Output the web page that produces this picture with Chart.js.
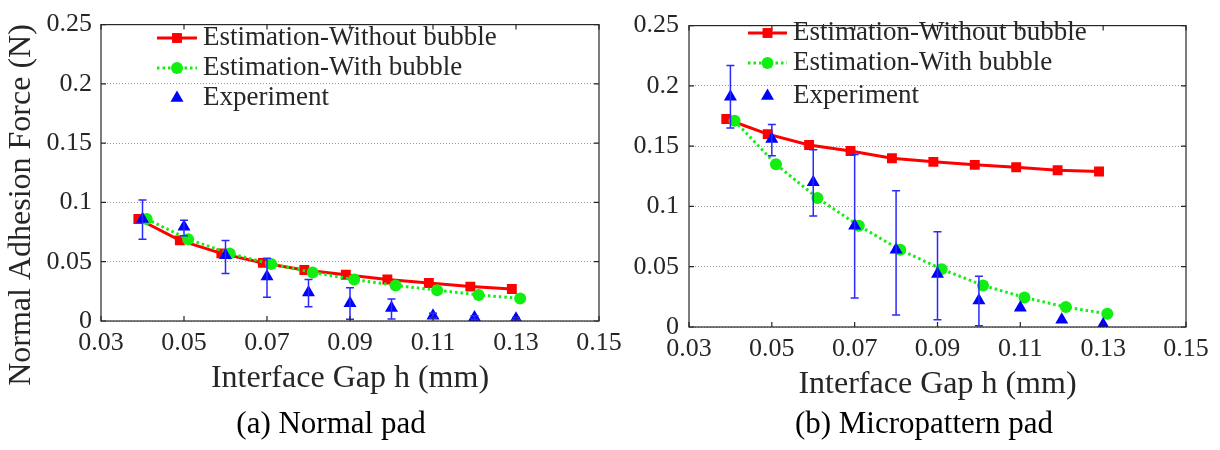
<!DOCTYPE html>
<html>
<head>
<meta charset="utf-8">
<script src="https://cdn.jsdelivr.net/npm/chart.js@4.4.1/dist/chart.umd.min.js"></script>
<style>
    body {
        margin: 0;
        background: #fff;
        width: 1220px;
        height: 450px;
        position: relative;
        overflow: hidden;
        font-family: "Liberation Serif", serif;
    }
    canvas {
        position: absolute;
        top: 0;
    }
    #chartA { left: 0; }
    #chartB { left: 600px; }
    .caption {
        position: absolute;
        top: 423px;
        font-family: "Liberation Serif", serif;
        font-size: 31px;
        color: #000;
        white-space: nowrap;
        transform: translate(-50%, -50%);
    }
</style>
</head>
<body>
<canvas id="chartA" width="640" height="450"></canvas>
<canvas id="chartB" width="620" height="450"></canvas>
<div class="caption" style="left:331px">(a) Normal pad</div>
<div class="caption" style="left:924px">(b) Micropattern pad</div>

<script>
// Gap positions (mm) - the estimation markers sit slightly left/right of the experiment ones
const gapExp = [0.04, 0.05, 0.06, 0.07, 0.08, 0.09, 0.10, 0.11, 0.12, 0.13];
const gapNoBubble = [0.039, 0.049, 0.059, 0.069, 0.079, 0.089, 0.099, 0.109, 0.119, 0.129];
const gapBubble = [0.041, 0.051, 0.061, 0.071, 0.081, 0.091, 0.101, 0.111, 0.121, 0.131];

// (a) Normal pad, force in N
const normalNoBubble = [0.086, 0.068, 0.057, 0.049, 0.043, 0.039, 0.035, 0.032, 0.029, 0.027];
const normalBubble = [0.086, 0.069, 0.057, 0.048, 0.041, 0.035, 0.030, 0.026, 0.022, 0.019];
const normalExp = [0.086, 0.0795, 0.0555, 0.0375, 0.024, 0.015, 0.011, 0.0045, 0.003, 0.002];
const normalExpLow = [0.069, 0.072, 0.040, 0.020, 0.012, 0.0014, 0.0017, 0.0025, 0.0015, 0.001];
const normalExpHigh = [0.102, 0.085, 0.068, 0.053, 0.035, 0.028, 0.0185, 0.0065, 0.0045, 0.003];

// (b) Micropattern pad, force in N
const microNoBubble = [0.1725, 0.160, 0.151, 0.146, 0.140, 0.137, 0.1345, 0.1325, 0.130, 0.129];
const microBubble = [0.171, 0.135, 0.107, 0.084, 0.064, 0.048, 0.0345, 0.0245, 0.0165, 0.011];
const microExp = [0.191, 0.156, 0.120, 0.084, 0.064, 0.044, 0.022, 0.016, 0.006, 0.002];
const microExpLow = [0.165, 0.142, 0.092, 0.024, 0.010, 0.006, 0.001, 0.016, 0.006, 0.002];
const microExpHigh = [0.217, 0.168, 0.147, 0.143, 0.113, 0.079, 0.042, 0.016, 0.006, 0.002];

const seriesNames = ['Estimation-Without bubble', 'Estimation-With bubble', 'Experiment'];

const TEXT_COLOR = '#262626';
const FONT = '"Liberation Serif", "DejaVu Serif", serif';
Chart.defaults.font.family = FONT;
Chart.defaults.color = TEXT_COLOR;

function toPoints(xs, ys) {
    return xs.map((x, i) => ({ x: x, y: ys[i] }));
}

// MATLAB style box with inward ticks
const framePlugin = {
    id: 'frame',
    afterDraw(chart) {
        const { ctx, chartArea: a, scales } = chart;
        ctx.save();
        ctx.strokeStyle = TEXT_COLOR;
        ctx.lineWidth = 1.2;
        ctx.strokeRect(a.left, a.top, a.right - a.left, a.bottom - a.top);
        const len = 5;
        ctx.beginPath();
        scales.x.ticks.forEach(t => {
            const px = scales.x.getPixelForValue(t.value);
            ctx.moveTo(px, a.bottom); ctx.lineTo(px, a.bottom - len);
            ctx.moveTo(px, a.top); ctx.lineTo(px, a.top + len);
        });
        scales.y.ticks.forEach(t => {
            const py = scales.y.getPixelForValue(t.value);
            ctx.moveTo(a.left, py); ctx.lineTo(a.left + len, py);
            ctx.moveTo(a.right, py); ctx.lineTo(a.right - len, py);
        });
        ctx.stroke();
        ctx.restore();
    }
};

// vertical error bars for the experiment dataset
const errorBarPlugin = {
    id: 'errorBars',
    afterDatasetsDraw(chart, args, opts) {
        const { ctx, scales } = chart;
        ctx.save();
        ctx.strokeStyle = '#2a2aff';
        ctx.lineWidth = 1.5;
        ctx.beginPath();
        opts.x.forEach((xv, i) => {
            const px = scales.x.getPixelForValue(xv);
            const pLow = scales.y.getPixelForValue(opts.low[i]);
            const pHigh = scales.y.getPixelForValue(opts.high[i]);
            if (Math.abs(pLow - pHigh) < 1) return;
            ctx.moveTo(px, pLow); ctx.lineTo(px, pHigh);
            ctx.moveTo(px - 4, pLow); ctx.lineTo(px + 4, pLow);
            ctx.moveTo(px - 4, pHigh); ctx.lineTo(px + 4, pHigh);
        });
        ctx.stroke();
        ctx.restore();
    }
};

function drawMarker(ctx, style, x, y, r, color) {
    ctx.fillStyle = color;
    ctx.beginPath();
    if (style === 'rect') {
        const s = r * Math.SQRT1_2;
        ctx.rect(x - s, y - s, 2 * s, 2 * s);
    } else if (style === 'triangle') {
        ctx.moveTo(x, y - r);
        ctx.lineTo(x + r * 0.866, y + r / 2);
        ctx.lineTo(x - r * 0.866, y + r / 2);
        ctx.closePath();
    } else {
        ctx.arc(x, y, r, 0, Math.PI * 2);
    }
    ctx.fill();
}

// legend inside the plot, upper left, like the MATLAB one
const insideLegendPlugin = {
    id: 'insideLegend',
    afterDraw(chart, args, opts) {
        const { ctx } = chart;
        ctx.save();
        chart.data.datasets.forEach((ds, i) => {
            const y = opts.rows[i];
            const mid = (opts.x0 + opts.x1) / 2;
            if (ds.showLine !== false) {
                ctx.strokeStyle = ds.borderColor;
                ctx.lineWidth = ds.borderWidth;
                ctx.setLineDash(ds.borderDash || []);
                ctx.beginPath();
                ctx.moveTo(opts.x0, y);
                ctx.lineTo(opts.x1, y);
                ctx.stroke();
                ctx.setLineDash([]);
            }
            drawMarker(ctx, ds.pointStyle, mid, y, ds.pointRadius, ds.pointBackgroundColor);
            ctx.fillStyle = TEXT_COLOR;
            ctx.font = '27px ' + FONT;
            ctx.textBaseline = 'middle';
            ctx.textAlign = 'left';
            ctx.fillText(ds.label, opts.textX, y);
        });
        ctx.restore();
    }
};

// rotated y title placed freely
const yTitlePlugin = {
    id: 'yTitle',
    afterDraw(chart, args, opts) {
        if (!opts.text) return;
        const { ctx } = chart;
        ctx.save();
        ctx.translate(opts.x, opts.y);
        ctx.rotate(-Math.PI / 2);
        ctx.fillStyle = TEXT_COLOR;
        ctx.font = '32px ' + FONT;
        ctx.textAlign = 'center';
        ctx.textBaseline = 'middle';
        ctx.fillText(opts.text, 0, 0);
        ctx.restore();
    }
};

function makeChart(id, noBubble, bubble, exp, expLow, expHigh, box) {
    const ctx = document.getElementById(id);
    return new Chart(ctx, {
        type: 'line',
        data: {
            datasets: [
                {
                    label: seriesNames[0],
                    data: toPoints(gapNoBubble, noBubble),
                    borderColor: '#ff0000',
                    borderWidth: 3,
                    pointStyle: 'rect',
                    pointRadius: 7,
                    pointBorderWidth: 0,
                    pointBackgroundColor: '#ff0000',
                    order: 3
                },
                {
                    label: seriesNames[1],
                    data: toPoints(gapBubble, bubble),
                    borderColor: '#11ee11',
                    borderWidth: 3,
                    borderDash: [2.5, 3],
                    pointStyle: 'circle',
                    pointRadius: 6,
                    pointBorderWidth: 0,
                    pointBackgroundColor: '#11ee11',
                    order: 2
                },
                {
                    label: seriesNames[2],
                    data: toPoints(gapExp, exp),
                    showLine: false,
                    borderColor: '#0000ff',
                    borderWidth: 0,
                    pointStyle: 'triangle',
                    pointRadius: 7.5,
                    pointBorderWidth: 0,
                    pointBackgroundColor: '#0000ff',
                    order: 1
                }
            ]
        },
        options: {
            responsive: false,
            animation: false,
            devicePixelRatio: 1,
            layout: {
                padding: { left: 0, top: box.top, right: box.right, bottom: 0 }
            },
            scales: {
                x: {
                    type: 'linear',
                    min: 0.03,
                    max: 0.15,
                    ticks: {
                        stepSize: 0.02,
                        padding: 7,
                        autoSkip: false,
                        maxRotation: 0,
                        color: TEXT_COLOR,
                        font: { size: 26, family: FONT },
                        callback: v => v.toFixed(2)
                    },
                    grid: { display: false, drawTicks: false },
                    border: { display: false },
                    title: {
                        display: true,
                        text: 'Interface Gap h (mm)',
                        color: TEXT_COLOR,
                        font: { size: 32, family: FONT },
                        padding: { top: 0, bottom: box.titlePad }
                    },
                    afterFit: s => { s.height = box.xHeight; }
                },
                y: {
                    min: 0,
                    max: 0.25,
                    ticks: {
                        stepSize: 0.05,
                        padding: box.yPad,
                        color: TEXT_COLOR,
                        font: { size: 26, family: FONT },
                        callback: v => String(parseFloat(v.toFixed(2)))
                    },
                    grid: { color: '#9a9a9a', lineWidth: 1, drawTicks: false },
                    border: { display: false, dash: [1, 2] },
                    afterFit: s => { s.width = box.yWidth; }
                }
            },
            plugins: {
                legend: { display: false },
                tooltip: { enabled: false },
                errorBars: { x: gapExp, low: expLow, high: expHigh },
                insideLegend: box.legend,
                yTitle: box.yTitle
            }
        },
        plugins: [framePlugin, errorBarPlugin, insideLegendPlugin, yTitlePlugin]
    });
}

function buildCharts() {
    makeChart('chartA', normalNoBubble, normalBubble, normalExp, normalExpLow, normalExpHigh, {
        top: 19, right: 41, xHeight: 129, yWidth: 101, yPad: 9, titlePad: 52,
        legend: { x0: 157, x1: 197, textX: 203, rows: [38, 68, 98] },
        yTitle: { text: 'Normal Adhesion Force (N)', x: 22, y: 205 }
    });

    makeChart('chartB', microNoBubble, microBubble, microExp, microExpLow, microExpHigh, {
        top: 15, right: 34, xHeight: 123, yWidth: 89, yPad: 10, titlePad: 46,
        legend: { x0: 148, x1: 187, textX: 193, rows: [33, 63, 96] },
        yTitle: { text: '' }
    });
}

// make sure the serif face is ready before the canvas text is drawn
Promise.all([
    document.fonts.load('26px "Liberation Serif"'),
    document.fonts.load('32px "Liberation Serif"')
]).then(buildCharts, buildCharts);
</script>
</body>
</html>
